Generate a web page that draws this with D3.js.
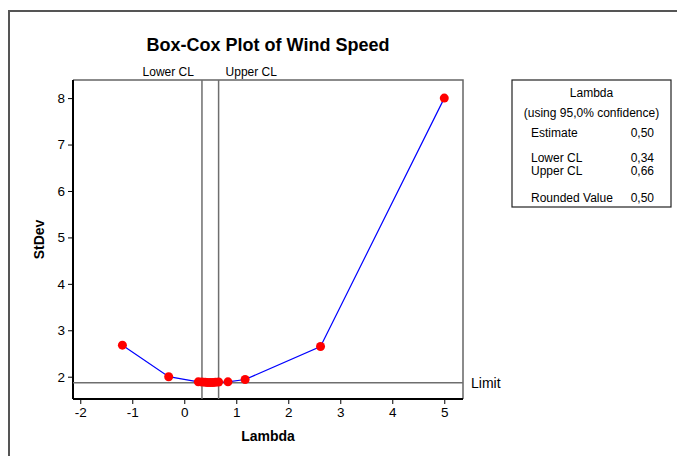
<!DOCTYPE html>
<html>
<head>
<meta charset="utf-8">
<script src="https://cdn.jsdelivr.net/npm/d3@7"></script>
<style>
  html, body { margin: 0; padding: 0; background: #fff; }
  svg { display: block; font-family: "Liberation Sans", Arial, sans-serif; }
</style>
</head>
<body>
<svg id="chart" width="677" height="456"></svg>
<script>
// Box-Cox transformation: standard deviation of the transformed data for each lambda
const lambdas = [-1.19, -0.30, 0.27, 0.34, 0.40, 0.45, 0.50, 0.55, 0.60, 0.66, 0.84, 1.17, 2.62, 5.00];
const stdevs  = [2.68, 2.00, 1.89, 1.885, 1.88, 1.875, 1.875, 1.875, 1.88, 1.885, 1.89, 1.94, 2.65, 8.00];

const xTicks = [-2, -1, 0, 1, 2, 3, 4, 5];
const yTicks = [2, 3, 4, 5, 6, 7, 8];

const lowerCL = 0.34;
const upperCL = 0.66;
const limit = 1.87;

const tableRows = [
  ["Estimate", "0,50"],
  ["Lower CL", "0,34"],
  ["Upper CL", "0,66"],
  ["Rounded Value", "0,50"]
];

const svg = d3.select("#chart");
const plot = { left: 73, right: 463, top: 80, bottom: 399 };

const x = d3.scaleLinear().domain([-2.14, 5.36]).range([plot.left, plot.right]);
const y = d3.scaleLinear().domain([1.52, 8.39]).range([plot.bottom, plot.top]);

// integer labels with a plain hyphen for negatives
const intFmt = d => String(d);

// outer frame (top and left edges)
svg.append("path")
  .attr("d", `M9,456 L9,11 L677,11`)
  .attr("fill", "none").attr("stroke", "#555").attr("stroke-width", 2);

// title
svg.append("text")
  .attr("x", (plot.left + plot.right) / 2).attr("y", 51)
  .attr("text-anchor", "middle")
  .attr("font-size", 18).attr("font-weight", "bold")
  .text("Box-Cox Plot of Wind Speed");

// plot border: top and right
svg.append("path")
  .attr("d", `M${plot.left},${plot.top} L${plot.right},${plot.top} L${plot.right},${plot.bottom}`)
  .attr("fill", "none").attr("stroke", "#666").attr("stroke-width", 1.5);

// axes
const xAxis = d3.axisBottom(x).tickValues(xTicks).tickSize(5).tickPadding(3).tickFormat(intFmt);
const gx = svg.append("g").attr("transform", `translate(0,${plot.bottom})`).call(xAxis);
gx.select(".domain").attr("stroke", "#000").attr("stroke-width", 2)
  .attr("d", `M${plot.left},0H${plot.right}`);
gx.selectAll(".tick line").attr("stroke", "#000");
gx.selectAll(".tick text").attr("font-size", 13.5).attr("font-family", "Liberation Sans, Arial, sans-serif").attr("fill", "#000");

const yAxis = d3.axisLeft(y).tickValues(yTicks).tickSize(5).tickPadding(3).tickFormat(intFmt);
const gy = svg.append("g").attr("transform", `translate(${plot.left},0)`).call(yAxis);
gy.select(".domain").attr("stroke", "#000").attr("stroke-width", 2)
  .attr("d", `M0,${plot.top}V${plot.bottom}`);
gy.selectAll(".tick line").attr("stroke", "#000");
gy.selectAll(".tick text").attr("font-size", 13.5).attr("font-family", "Liberation Sans, Arial, sans-serif").attr("fill", "#000");

// axis titles
svg.append("text")
  .attr("x", (plot.left + plot.right) / 2).attr("y", 441)
  .attr("text-anchor", "middle").attr("font-size", 14).attr("font-weight", "bold")
  .text("Lambda");
svg.append("text")
  .attr("transform", `translate(44,${(plot.top + plot.bottom) / 2}) rotate(-90)`)
  .attr("text-anchor", "middle").attr("font-size", 14).attr("font-weight", "bold")
  .text("StDev");

// confidence limits and limit line
const refColor = "#6e6e6e";
[lowerCL, upperCL].forEach(v => {
  svg.append("line")
    .attr("x1", x(v)).attr("x2", x(v))
    .attr("y1", plot.top).attr("y2", plot.bottom)
    .attr("stroke", refColor).attr("stroke-width", 1.5);
});
svg.append("text")
  .attr("x", x(lowerCL) - 8).attr("y", 76)
  .attr("text-anchor", "end").attr("font-size", 12)
  .text("Lower CL");
svg.append("text")
  .attr("x", x(upperCL) + 7).attr("y", 76)
  .attr("text-anchor", "start").attr("font-size", 12)
  .text("Upper CL");

svg.append("line")
  .attr("x1", plot.left).attr("x2", plot.right)
  .attr("y1", y(limit)).attr("y2", y(limit))
  .attr("stroke", refColor).attr("stroke-width", 1.5);
svg.append("text")
  .attr("x", 471).attr("y", y(limit) + 5)
  .attr("font-size", 14)
  .text("Limit");

// curve
const pts = lambdas.map((l, i) => [l, stdevs[i]]);
svg.append("path")
  .datum(pts)
  .attr("d", d3.line().x(d => x(d[0])).y(d => y(d[1])))
  .attr("fill", "none").attr("stroke", "#0000ff").attr("stroke-width", 1.2);
svg.selectAll("circle.pt")
  .data(pts).enter().append("circle")
  .attr("class", "pt")
  .attr("cx", d => x(d[0])).attr("cy", d => y(d[1]))
  .attr("r", 4.5).attr("fill", "#ff0000");

// summary table
const box = { x: 512, y: 80, w: 159, h: 127 };
svg.append("rect")
  .attr("x", box.x).attr("y", box.y).attr("width", box.w).attr("height", box.h)
  .attr("fill", "#fff").attr("stroke", "#222").attr("stroke-width", 1.2);
svg.append("text")
  .attr("x", box.x + box.w / 2).attr("y", 97)
  .attr("text-anchor", "middle").attr("font-size", 12)
  .text("Lambda");
svg.append("text")
  .attr("x", box.x + box.w / 2).attr("y", 117)
  .attr("text-anchor", "middle").attr("font-size", 12)
  .text("(using 95,0% confidence)");
const rowY = [137, 162, 175, 202];
tableRows.forEach((r, i) => {
  svg.append("text").attr("x", 531).attr("y", rowY[i]).attr("font-size", 12).text(r[0]);
  svg.append("text").attr("x", 654).attr("y", rowY[i]).attr("text-anchor", "end").attr("font-size", 12).text(r[1]);
});
</script>
</body>
</html>
